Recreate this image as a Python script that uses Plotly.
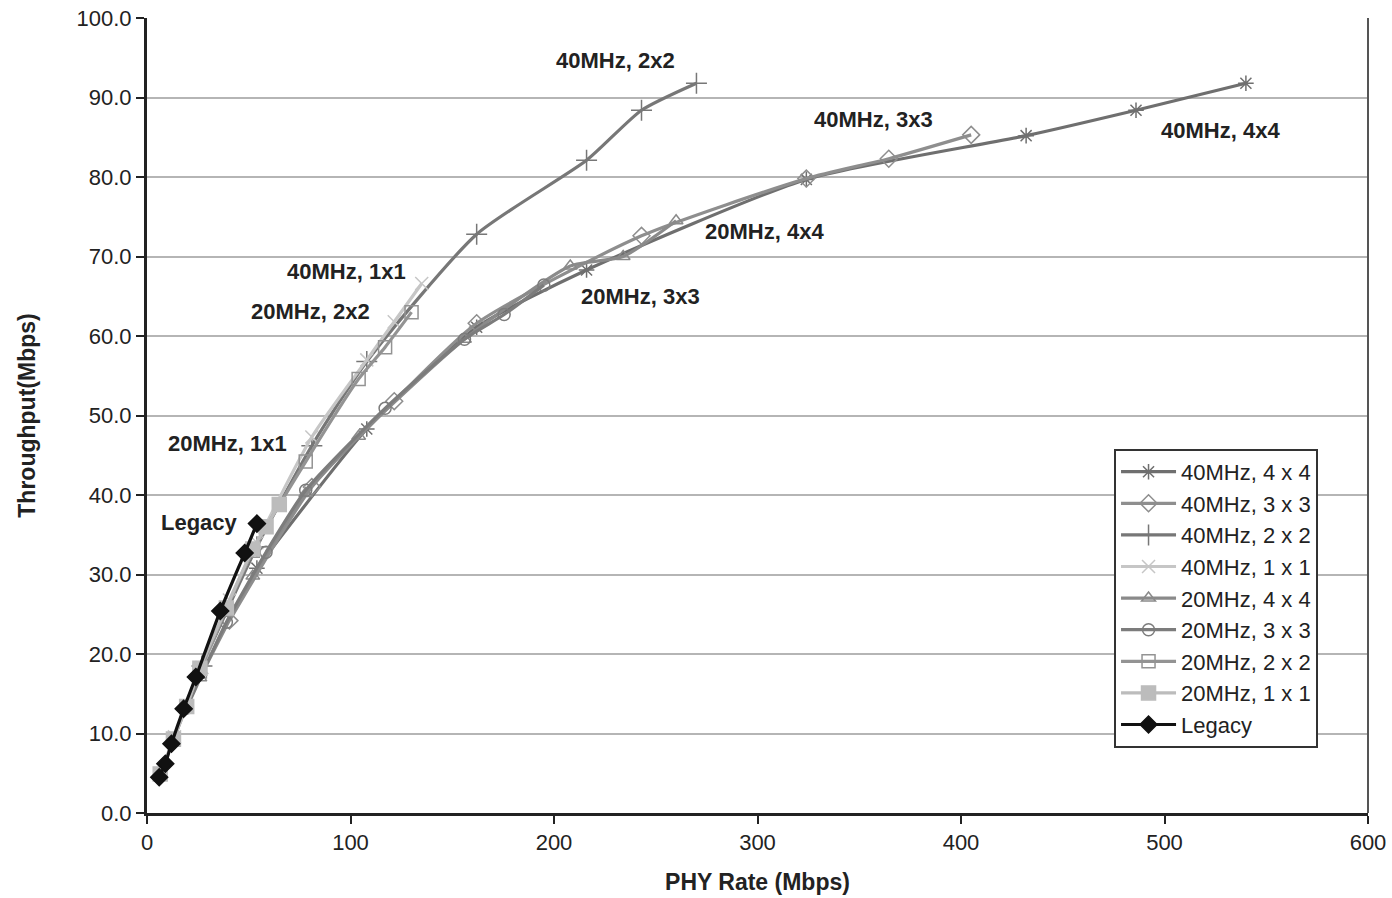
import plotly.graph_objects as go

# PHY rates (Mbps) and measured throughput (Mbps) per configuration
rate_40_4x4 = [54, 108, 162, 216, 324, 432, 486, 540]
tput_40_4x4 = [30.8, 48.3, 61.1, 68.3, 79.7, 85.2, 88.4, 91.8]

rate_40_3x3 = [40.5, 81, 121.5, 162, 243, 324, 364.5, 405]
tput_40_3x3 = [24.2, 41.0, 51.8, 61.6, 72.6, 79.8, 82.3, 85.3]

rate_40_2x2 = [27, 54, 81, 108, 162, 216, 243, 270]
tput_40_2x2 = [18.5, 33.5, 46.2, 56.8, 72.8, 82.1, 88.4, 91.8]

rate_40_1x1 = [13.5, 27, 40.5, 54, 81, 108, 121.5, 135]
tput_40_1x1 = [9.6, 18.3, 26.8, 34.0, 47.3, 57.0, 61.8, 66.6]

rate_20_4x4 = [26, 52, 78, 104, 156, 208, 234, 260]
tput_20_4x4 = [17.0, 29.8, 40.2, 47.4, 59.6, 68.8, 70.0, 74.5]

rate_20_3x3 = [19.5, 39, 58.5, 78, 117, 156, 175.5, 195]
tput_20_3x3 = [13.2, 24.0, 32.8, 40.6, 50.9, 59.6, 62.7, 66.4]

rate_20_2x2 = [13, 26, 39, 52, 78, 104, 117, 130]
tput_20_2x2 = [9.2, 17.8, 25.6, 33.0, 44.2, 54.6, 58.6, 63.0]

rate_20_1x1 = [6.5, 13, 19.5, 26, 39, 52, 58.5, 65]
tput_20_1x1 = [4.9, 9.3, 13.4, 18.2, 25.8, 33.2, 36.0, 38.8]

rate_legacy = [6, 9, 12, 18, 24, 36, 48, 54]
tput_legacy = [4.5, 6.2, 8.7, 13.1, 17.1, 25.4, 32.7, 36.4]

series = [
    ("40MHz, 4 x 4", rate_40_4x4, tput_40_4x4, "#6f6f6f", "asterisk-open", 13),
    ("40MHz, 3 x 3", rate_40_3x3, tput_40_3x3, "#8e8e8e", "diamond-open", 13),
    ("40MHz, 2 x 2", rate_40_2x2, tput_40_2x2, "#777777", "cross-thin-open", 15),
    ("40MHz, 1 x 1", rate_40_1x1, tput_40_1x1, "#c6c6c6", "x-thin-open", 13),
    ("20MHz, 4 x 4", rate_20_4x4, tput_20_4x4, "#8a8a8a", "triangle-up-open", 12),
    ("20MHz, 3 x 3", rate_20_3x3, tput_20_3x3, "#7c7c7c", "circle-open", 12),
    ("20MHz, 2 x 2", rate_20_2x2, tput_20_2x2, "#939393", "square-open", 13),
    ("20MHz, 1 x 1", rate_20_1x1, tput_20_1x1, "#bcbcbc", "square", 14),
    ("Legacy", rate_legacy, tput_legacy, "#111111", "diamond", 13),
]

fig = go.Figure()
for name, xs, ys, color, symbol, size in series:
    fig.add_trace(go.Scatter(
        x=xs, y=ys, name=name, mode="lines+markers",
        line=dict(color=color, width=3.2, shape="spline", smoothing=0.6),
        marker=dict(symbol=symbol, size=size, color=color,
                    line=dict(color=color, width=1.5)),
    ))

# Curve labels
labels = [
    ("40MHz, 2x2", 230, 94.7),
    ("40MHz, 3x3", 356.8, 87.2),
    ("40MHz, 4x4", 527.3, 85.9),
    ("20MHz, 4x4", 303.2, 73.1),
    ("20MHz, 3x3", 242.3, 65.0),
    ("40MHz, 1x1", 97.8, 68.1),
    ("20MHz, 2x2", 80.1, 63.1),
    ("20MHz, 1x1", 39.8, 46.5),
    ("Legacy", 26.0, 36.5),
]
for text, lx, ly in labels:
    fig.add_annotation(x=lx, y=ly, text="<b>%s</b>" % text, showarrow=False,
                       font=dict(family="Liberation Sans, Arial", size=22, color="#222222"))

# Right border of the plotting area
fig.add_shape(type="line", xref="paper", yref="paper", x0=1, x1=1, y0=0, y1=1,
              line=dict(color="#555555", width=2))

fig.update_layout(
    width=1392, height=898,
    margin=dict(l=147, r=24, t=18, b=85, autoexpand=False),
    plot_bgcolor="white", paper_bgcolor="white",
    font=dict(family="Liberation Sans, Arial", size=22, color="#222222"),
    showlegend=True,
    legend=dict(x=0.792, y=0.458, xanchor="left", yanchor="top",
                bgcolor="white", bordercolor="#333333", borderwidth=2,
                font=dict(size=22, color="#222222"), itemwidth=55,
                tracegroupgap=0),
)
fig.update_xaxes(
    range=[0, 600], dtick=100, showgrid=False, zeroline=False,
    showline=True, linecolor="#222222", linewidth=3,
    ticks="outside", ticklen=8, tickwidth=2, tickcolor="#222222",
    tickfont=dict(size=22),
    title=dict(text="<b>PHY Rate (Mbps)</b>", font=dict(size=23), standoff=20),
)
fig.update_yaxes(
    range=[0, 100], dtick=10, tickformat=".1f", showgrid=True,
    gridcolor="#b5b5b5", gridwidth=2, zeroline=False,
    showline=True, linecolor="#222222", linewidth=3,
    ticks="outside", ticklen=8, tickwidth=2, tickcolor="#222222",
    tickfont=dict(size=22),
    title=dict(text="<b>Throughput(Mbps)</b>", font=dict(size=23), standoff=35),
)

fig.write_html("out.html")
